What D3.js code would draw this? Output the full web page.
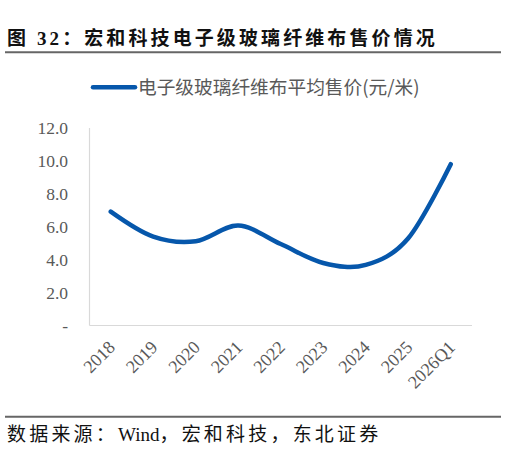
<!DOCTYPE html>
<html><head><meta charset="utf-8">
<script src="https://cdn.jsdelivr.net/npm/d3@7/dist/d3.min.js"></script>
<style>
html,body{margin:0;padding:0;background:#fff;}
svg{display:block;}
</style></head>
<body><svg id="c" width="529" height="465"></svg>
<script>
const categories = ["2018","2019","2020","2021","2022","2023","2024","2025","2026Q1"];
const prices = [6.92, 5.4, 5.12, 6.07, 4.95, 3.8, 3.68, 5.3, 9.8];
const yTicks = [0, 2, 4, 6, 8, 10, 12];
const titleText = "图 32：宏和科技电子级玻璃纤维布售价情况";
const legendText = "电子级玻璃纤维布平均售价(元/米)";
const sourceParts = ["数据来源：", "Wind", "，宏和科技，东北证券"];

const svg = d3.select("#c");
const serif = "'Liberation Serif','Times New Roman','Noto Sans CJK SC',serif";
const grey = "#595959";

// title
svg.append("text").attr("x", 7).attr("y", 45)
  .attr("font-family", serif).attr("font-weight", "bold").attr("font-size", 19)
  .attr("letter-spacing", 3.1).attr("fill", "#111")
  .text(titleText);
svg.append("line").attr("x1", 5).attr("x2", 501).attr("y1", 52.3).attr("y2", 52.3)
  .attr("stroke", "#666").attr("stroke-width", 2);

// scales
const x = d3.scaleBand().domain(categories).range([89.5, 472]).padding(0);
const y = d3.scaleLinear().domain([0, 12]).range([325.5, 128]);

// axes lines
const g = svg.append("g");
g.append("line").attr("x1", x.range()[0]).attr("x2", x.range()[0])
  .attr("y1", y(12)).attr("y2", y(0)).attr("stroke", "#d9d9d9").attr("stroke-width", 1.2);
g.append("line").attr("x1", x.range()[0]).attr("x2", x.range()[1])
  .attr("y1", y(0)).attr("y2", y(0)).attr("stroke", "#d9d9d9").attr("stroke-width", 1.2);

// y labels
g.selectAll(".yl").data(yTicks).join("text")
  .attr("x", 68).attr("y", d => y(d)).attr("dy", "0.35em")
  .attr("text-anchor", "end").attr("font-family", serif).attr("font-size", 17.5)
  .attr("fill", grey)
  .text(d => d === 0 ? "-" : d.toFixed(1));

// x labels
g.selectAll(".xl").data(categories).join("text")
  .attr("transform", d => `translate(${x(d) + x.bandwidth()/2 + 1},${344}) rotate(-45)`)
  .attr("text-anchor", "end").attr("font-family", serif).attr("font-size", 18)
  .attr("fill", grey).attr("dy", "0.35em")
  .text(d => d);

// line
const line = d3.line()
  .x((d, i) => x(categories[i]) + x.bandwidth()/2)
  .y(d => y(d))
  .curve(d3.curveCardinal.tension(0));
g.append("path").datum(prices).attr("d", line)
  .attr("fill", "none").attr("stroke", "#0657ab").attr("stroke-width", 4.5)
  .attr("stroke-linecap", "round").attr("stroke-linejoin", "round");

// legend
svg.append("line").attr("x1", 93).attr("x2", 135).attr("y1", 87.3).attr("y2", 87.3)
  .attr("stroke", "#0657ab").attr("stroke-width", 4.5).attr("stroke-linecap", "round");
svg.append("text").attr("x", 138).attr("y", 94)
  .attr("font-family", "'Noto Sans CJK SC',sans-serif").attr("font-size", 18.7)
  .attr("fill", grey).text(legendText);

// source
svg.append("line").attr("x1", 5).attr("x2", 501).attr("y1", 416.7).attr("y2", 416.7)
  .attr("stroke", "#666").attr("stroke-width", 2);
const src = svg.append("text").attr("x", 7).attr("y", 441)
  .attr("font-family", serif).attr("font-size", 19).attr("fill", "#111");
src.selectAll("tspan").data(sourceParts).join("tspan")
  .attr("letter-spacing", (d, i) => i === 1 ? 0 : 3.2)
  .text(d => d);
</script></body></html>
